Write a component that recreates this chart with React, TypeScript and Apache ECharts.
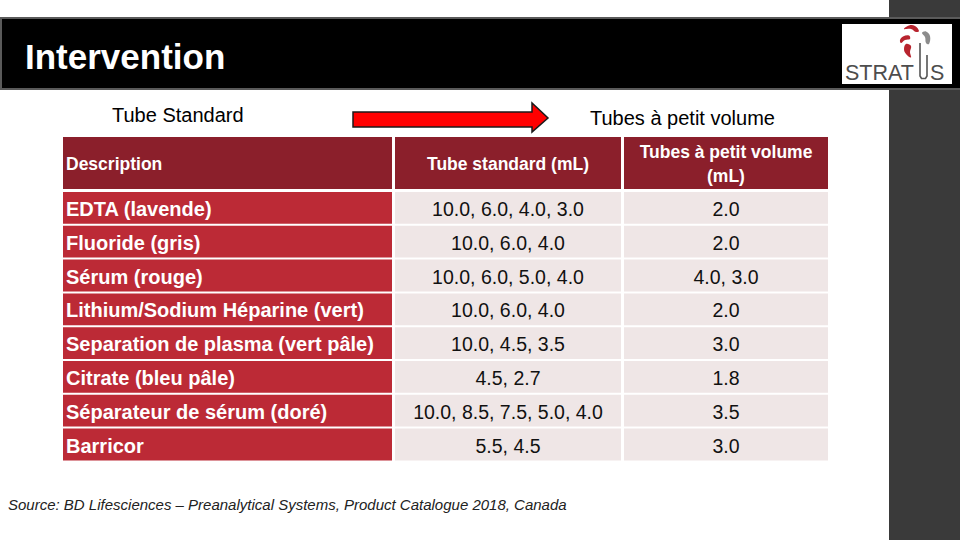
import React, { useEffect, useRef } from "react";
import * as echarts from "echarts";

const titleText = "Intervention";
const leftLabel = "Tube Standard";
const rightLabel = "Tubes à petit volume";
const headers = ["Description", "Tube standard (mL)", "Tubes à petit volume\n(mL)"];
const descriptions = [
  "EDTA (lavende)",
  "Fluoride (gris)",
  "Sérum (rouge)",
  "Lithium/Sodium Héparine (vert)",
  "Separation de plasma (vert pâle)",
  "Citrate (bleu pâle)",
  "Séparateur de sérum (doré)",
  "Barricor",
];
const standardVolumes = [
  "10.0, 6.0, 4.0, 3.0",
  "10.0, 6.0, 4.0",
  "10.0, 6.0, 5.0, 4.0",
  "10.0, 6.0, 4.0",
  "10.0, 4.5, 3.5",
  "4.5, 2.7",
  "10.0, 8.5, 7.5, 5.0, 4.0",
  "5.5, 4.5",
];
const smallVolumes = ["2.0", "2.0", "4.0, 3.0", "2.0", "3.0", "1.8", "3.5", "3.0"];
const sourceText =
  "Source: BD Lifesciences – Preanalytical Systems, Product Catalogue 2018, Canada";

const FONT = "'Liberation Sans', Arial, sans-serif";

export default function App() {
  const ref = useRef<HTMLDivElement>(null);
  useEffect(() => {
    if (!ref.current) return;
    const chart = echarts.init(ref.current, null, { renderer: "svg" });

    const colX = [63, 395, 624];
    const colW = [329, 226, 204];
    const headTop = 137;
    const headH = 52;
    const rowTop0 = 192;
    const rowStep = 33.8;
    const rowH = 31.8;

    const g: any[] = [];
    // right grey bar
    g.push({ type: "rect", shape: { x: 889, y: 0, width: 71, height: 540 }, style: { fill: "#3a3a3a" } });
    // header band
    g.push({
      type: "rect",
      shape: { x: 1, y: 18, width: 960, height: 71 },
      style: { fill: "#000", stroke: "#5a5a5a", lineWidth: 2 },
    });
    g.push({
      type: "text",
      x: 25,
      y: 56,
      style: { text: titleText, fill: "#fff", fontSize: 35, fontWeight: "bold", fontFamily: FONT, verticalAlign: "middle" },
    });
    // logo
    g.push({ type: "rect", shape: { x: 842, y: 24, width: 110, height: 60 }, style: { fill: "#fff" } });
    g.push({
      type: "text",
      x: 845,
      y: 73,
      style: { text: "STRAT", fill: "#4d4d4d", fontSize: 21.5, fontFamily: FONT, verticalAlign: "middle" },
    });
    g.push({
      type: "polyline",
      shape: { points: [[920, 43], [920, 76], [921.5, 78.5], [925.5, 78.5], [927, 76], [927, 55]] },
      style: { stroke: "#555", lineWidth: 1.6, fill: "none" },
    });
    g.push({
      type: "text",
      x: 930,
      y: 73,
      style: { text: "S", fill: "#4d4d4d", fontSize: 21.5, fontFamily: FONT, verticalAlign: "middle" },
    });
    g.push({
      type: "polygon",
      shape: { points: [[904, 29], [909, 25.5], [915, 26], [919, 31], [916, 32], [911, 29]], smooth: 0.4 },
      style: { fill: "#b8242e" },
    });
    g.push({
      type: "polygon",
      shape: { points: [[909, 35.5], [903, 36.5], [900, 40], [901, 43], [905, 40], [910, 39]], smooth: 0.4 },
      style: { fill: "#b8242e" },
    });
    g.push({
      type: "polygon",
      shape: { points: [[906, 44], [904, 49], [906, 54], [911, 57.5], [910, 52], [911, 46]], smooth: 0.4 },
      style: { fill: "#b8242e" },
    });
    g.push({
      type: "polygon",
      shape: { points: [[922, 33], [926, 31.5], [930, 36], [929, 44], [926, 43], [925, 37]], smooth: 0.4 },
      style: { fill: "#8c8c8c" },
    });

    // labels and arrow
    g.push({
      type: "text",
      x: 112,
      y: 115,
      style: { text: leftLabel, fill: "#000", fontSize: 20, fontFamily: FONT, verticalAlign: "middle" },
    });
    g.push({
      type: "text",
      x: 590,
      y: 118,
      style: { text: rightLabel, fill: "#000", fontSize: 20, fontFamily: FONT, verticalAlign: "middle" },
    });
    g.push({
      type: "polygon",
      shape: {
        points: [
          [353, 112],
          [532, 112],
          [532, 103],
          [548, 118],
          [532, 132],
          [532, 127],
          [353, 127],
        ],
      },
      style: { fill: "#ff0000", stroke: "#1a1a1a", lineWidth: 1.5 },
    });

    // table header
    for (let c = 0; c < 3; c++) {
      g.push({
        type: "rect",
        shape: { x: colX[c], y: headTop, width: colW[c], height: headH },
        style: { fill: "#8b1f2b" },
      });
      g.push({
        type: "text",
        x: c === 0 ? colX[c] + 3 : colX[c] + colW[c] / 2,
        y: headTop + headH / 2 + 1,
        style: {
          text: headers[c],
          fill: "#fff",
          fontSize: 17.5,
          fontWeight: "bold",
          fontFamily: FONT,
          align: c === 0 ? "left" : "center",
          verticalAlign: "middle",
          lineHeight: 24,
        },
      });
    }
    // body rows
    descriptions.forEach((d, i) => {
      const y = rowTop0 + i * rowStep;
      const cells = [d, standardVolumes[i], smallVolumes[i]];
      for (let c = 0; c < 3; c++) {
        g.push({
          type: "rect",
          shape: { x: colX[c], y, width: colW[c], height: rowH },
          style: { fill: c === 0 ? "#bc2a36" : "#efe6e6" },
        });
        g.push({
          type: "text",
          x: c === 0 ? colX[c] + 3 : colX[c] + colW[c] / 2,
          y: y + rowH / 2 + 1,
          style: {
            text: cells[c],
            fill: c === 0 ? "#fff" : "#111",
            fontSize: c === 0 ? 20 : 19.5,
            fontWeight: c === 0 ? "bold" : "normal",
            fontFamily: FONT,
            align: c === 0 ? "left" : "center",
            verticalAlign: "middle",
          },
        });
      }
    });

    g.push({
      type: "text",
      x: 8,
      y: 504,
      style: { text: sourceText, fill: "#222", fontSize: 15, fontStyle: "italic", fontFamily: FONT, verticalAlign: "middle" },
    });

    chart.setOption({
      animation: false,
      backgroundColor: "#ffffff",
      graphic: g,
    });
    return () => chart.dispose();
  }, []);
  return (
    <div
      ref={ref}
      style={{ position: "fixed", left: 0, top: 0, width: 960, height: 540 }}
    />
  );
}
